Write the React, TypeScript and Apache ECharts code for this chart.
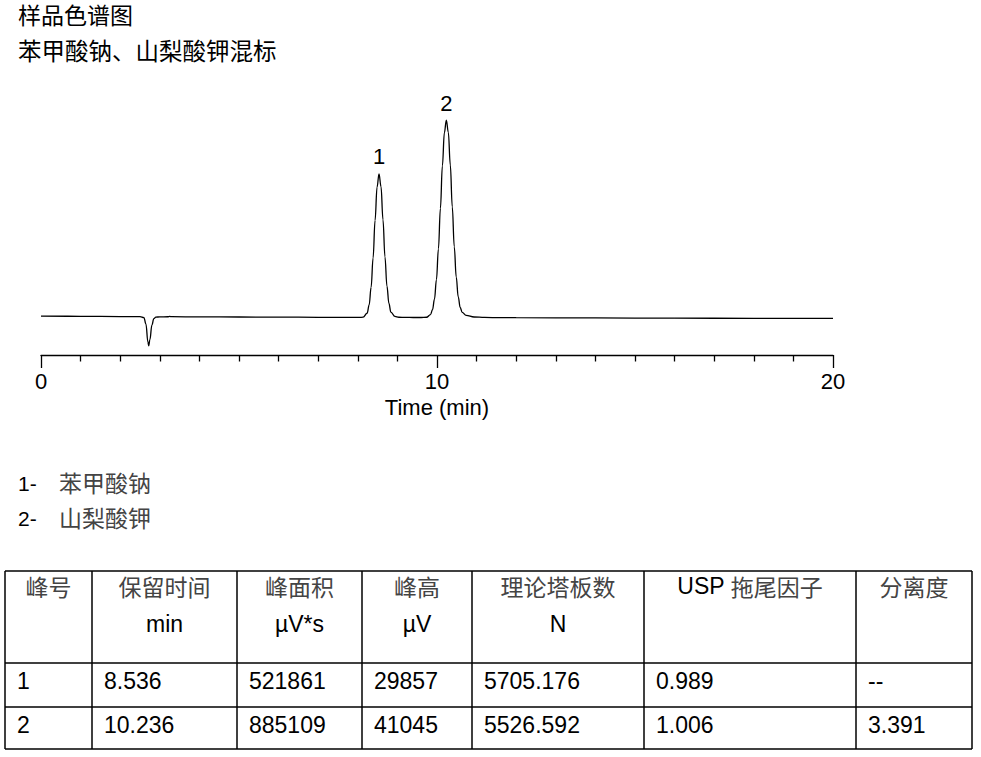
import React, { useEffect, useRef } from "react";
import * as echarts from "echarts";

// ---------- data ----------
const titleLines = ["样品色谱图", "苯甲酸钠、山梨酸钾混标"];

const timeMin = [
  0, 1, 2, 2.5, 2.6, 2.65, 2.7, 2.72, 2.75, 2.8, 2.85, 2.9, 3.0, 3.2, 3.25, 3.3, 4, 5, 6, 7, 7.8,
  8.036, 8.136, 8.236, 8.286, 8.336, 8.386, 8.436, 8.486, 8.536, 8.586, 8.636, 8.686, 8.736, 8.786, 8.836, 8.936, 9.036,
  9.2, 9.4, 9.6,
  9.736, 9.836, 9.886, 9.936, 9.986, 10.036, 10.086, 10.136, 10.186, 10.236, 10.286, 10.336, 10.386, 10.436, 10.486,
  10.536, 10.586, 10.636, 10.736, 10.936, 11.2, 11.6, 12, 14, 16, 18, 20,
];
const signalUV = [
  0, -50, -110, -130, -350, -1700, -5400, -6200, -4900, -1900, -550, -230, -170, -150, -60, -140, -170, -200, -230, -260, -280,
  -285, -233, 590, 2300, 5950, 12070, 19890, 26790, 29567, 26900, 20010, 12310, 6210, 2610, 810, -90, -250,
  -290, -300, -305,
  -250, 290, 1310, 3510, 7590, 13980, 22380, 31220, 38110, 40735, 38200, 31400, 22700, 14400, 8100,
  4000, 1800, 750, 150, -200, -290, -330, -350, -400, -440, -470, -480,
];

const peakLabels = ["1", "2"];
const peakTimes = [8.536, 10.236];
const peakApexUV = [29567, 40735];

const compoundIds = ["1-", "2-"];
const compoundNames = ["苯甲酸钠", "山梨酸钾"];

const tableHeaders = ["峰号", "保留时间", "峰面积", "峰高", "理论塔板数", "USP 拖尾因子", "分离度"];
const tableUnits = ["", "min", "µV*s", "µV", "N", "", ""];
const tableRows = [
  ["1", "8.536", "521861", "29857", "5705.176", "0.989", "--"],
  ["2", "10.236", "885109", "41045", "5526.592", "1.006", "3.391"],
];

// ---------- layout ----------
const LATIN = "'Liberation Sans', Arial, 'Noto Sans CJK SC', sans-serif";
const CJK = "'Noto Sans CJK SC', 'Liberation Sans', sans-serif";
const colEdges = [5, 92, 237, 362, 472, 644, 856, 972];
const rowEdges = [571, 663, 707, 749];
const rowTextY = [681, 725];
const titleTop = [4, 40];
const titleSize = [23, 23.5];

export default function App() {
  const ref = useRef<HTMLDivElement>(null);

  useEffect(() => {
    if (!ref.current) return;
    const chart = echarts.init(ref.current, undefined, { renderer: "svg" });

    const graphics: any[] = [];
    // titles
    titleLines.forEach((t, i) => {
      graphics.push({
        type: "text",
        x: 18,
        y: titleTop[i],
        style: {
          text: t,
          font: `${titleSize[i]}px ${LATIN}`,
          lineHeight: titleSize[i],
          fill: "#000",
          verticalAlign: "top",
        },
      });
    });
    // compound legend
    compoundIds.forEach((id, i) => {
      const y = 482 + i * 35;
      graphics.push({
        type: "text",
        x: 18,
        y: y + 1,
        style: { text: id, font: `21px ${LATIN}`, fill: "#000", verticalAlign: "middle" },
      });
      graphics.push({
        type: "text",
        x: 59,
        y,
        style: { text: compoundNames[i], font: `23px ${CJK}`, fill: "#444", verticalAlign: "middle" },
      });
    });
    // table lines
    colEdges.forEach((x) => {
      graphics.push({
        type: "line",
        shape: { x1: x, y1: rowEdges[0], x2: x, y2: rowEdges[rowEdges.length - 1] },
        style: { stroke: "#000", lineWidth: 1.5 },
      });
    });
    rowEdges.forEach((y) => {
      graphics.push({
        type: "line",
        shape: { x1: colEdges[0], y1: y, x2: colEdges[colEdges.length - 1], y2: y },
        style: { stroke: "#000", lineWidth: 1.5 },
      });
    });
    // header
    tableHeaders.forEach((h, c) => {
      const cx = (colEdges[c] + colEdges[c + 1]) / 2;
      const isUsp = h.startsWith("USP");
      graphics.push({
        type: "text",
        x: cx,
        y: 586,
        style: isUsp
          ? {
              text: `{l|USP }{c|${h.slice(4)}}`,
              align: "center",
              verticalAlign: "middle",
              rich: {
                l: { font: `23px ${LATIN}`, fill: "#000" },
                c: { font: `23px ${CJK}`, fill: "#444" },
              },
            }
          : { text: h, font: `23px ${CJK}`, fill: "#444", align: "center", verticalAlign: "middle" },
      });
      if (tableUnits[c]) {
        graphics.push({
          type: "text",
          x: cx,
          y: 624,
          style: { text: tableUnits[c], font: `23px ${LATIN}`, fill: "#000", align: "center", verticalAlign: "middle" },
        });
      }
    });
    // rows
    tableRows.forEach((row, r) => {
      row.forEach((v, c) => {
        graphics.push({
          type: "text",
          x: colEdges[c] + 12,
          y: rowTextY[r],
          style: { text: v, font: `23px ${LATIN}`, fill: "#000", verticalAlign: "middle" },
        });
      });
    });

    chart.setOption({
      animation: false,
      backgroundColor: "#fff",
      grid: { left: 41, right: 148, top: 99.6, height: 255.4, containLabel: false },
      xAxis: {
        type: "value",
        min: 0,
        max: 20,
        interval: 10,
        name: "Time (min)",
        nameLocation: "middle",
        nameGap: 41,
        nameTextStyle: { fontFamily: LATIN, fontSize: 22, color: "#000" },
        axisLine: { onZero: false, lineStyle: { color: "#000", width: 1.3 } },
        axisTick: { show: true, length: 13, lineStyle: { color: "#000", width: 1.3 } },
        minorTick: { show: true, splitNumber: 10, length: 6.5, lineStyle: { color: "#000", width: 1.3 } },
        axisLabel: { fontFamily: LATIN, fontSize: 22, color: "#000", margin: 15 },
        splitLine: { show: false },
        minorSplitLine: { show: false },
      },
      yAxis: {
        type: "value",
        min: -8100,
        max: 45000,
        show: false,
        splitLine: { show: false },
      },
      series: [
        {
          type: "line",
          data: timeMin.map((t, i) => [t, signalUV[i]]),
          showSymbol: false,
          smooth: 0.4,
          smoothMonotone: "x",
          lineStyle: { color: "#000", width: 1.3 },
          markPoint: {
            symbol: "circle",
            symbolSize: 0,
            data: peakTimes.map((t, i) => ({
              coord: [t, peakApexUV[i]],
              value: peakLabels[i],
            })),
            label: {
              show: true,
              position: "top",
              distance: 6,
              formatter: (p: any) => p.value,
              fontFamily: LATIN,
              fontSize: 22,
              color: "#000",
            },
          },
        },
      ],
      graphic: graphics,
    });

    return () => chart.dispose();
  }, []);

  return (
    <div
      ref={ref}
      style={{ position: "absolute", left: 0, top: 0, width: 981, height: 757, background: "#fff" }}
    />
  );
}
